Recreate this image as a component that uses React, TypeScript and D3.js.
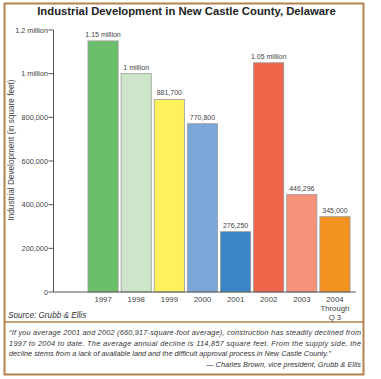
import React from "react";
import * as d3 from "d3";

const categories = ["1997", "1998", "1999", "2000", "2001", "2002", "2003", "2004"];
const values = [1150000, 1000000, 881700, 770800, 276250, 1050000, 446296, 345000];
const valueLabels = ["1.15 million", "1 million", "881,700", "770,800", "276,250", "1.05 million", "446,296", "345,000"];
const barColors = ["#6bbf6b", "#cde6c9", "#fdf15c", "#7ba6d8", "#3a85c7", "#f0654a", "#f4937a", "#f39121"];
const tickValues = [0, 200000, 400000, 600000, 800000, 1000000, 1200000];
const tickLabels = ["0", "200,000", "400,000", "600,000", "800,000", "1 million", "1.2 million"];
const quoteLines = [
  "\u201cIf you average 2001 and 2002 (660,917-square-foot average), construction has steadily declined from",
  "1997 to 2004 to date. The average annual decline is 114,857 square feet. From the supply side, the",
  "decline stems from a lack of available land and the difficult approval process in New Castle County.\u201d",
];
const attribution = "\u2014 Charles Brown, vice president, Grubb & Ellis";

export default function App() {
  const W = 381, H = 379;
  const font = "'Liberation Sans', Arial, Helvetica, sans-serif";
  const y = d3.scaleLinear().domain([0, 1200000]).range([292, 30]);
  const x = d3.scaleBand().domain(categories).range([86.5, 351.5]).paddingInner(0.09).paddingOuter(0.045);
  const axisX = 53.5;
  const border = "#b3834f";
  return (
    <svg width={W} height={H} style={{ position: "absolute", left: 0, top: 0, background: "#fff" }} fontFamily={font}>
      <rect x={0} y={0} width={W} height={H} fill="#fff" />
      <rect x={4.5} y={3.5} width={359} height={371} fill="none" stroke={border} strokeWidth={2} />
      <line x1={4.5} x2={363.5} y1={322} y2={322} stroke={border} strokeWidth={1.5} />
      <text x={186.5} y={15} textAnchor="middle" fontWeight="bold" fontSize={11.3} fill="#222">
        Industrial Development in New Castle County, Delaware
      </text>
      <text transform={`translate(14,150) rotate(-90)`} textAnchor="middle" fontSize={8.2} fill="#444">
        Industrial Development (in square feet)
      </text>
      {/* y axis */}
      <line x1={axisX} x2={axisX} y1={y(1200000)} y2={y(0)} stroke="#555" strokeWidth={1} />
      {tickValues.map((t, i) => (
        <g key={t}>
          <line x1={axisX - 5} x2={axisX} y1={y(t)} y2={y(t)} stroke="#555" strokeWidth={1} />
          <text x={axisX - 5.5} y={y(t) + 2.5} textAnchor="end" fontSize={7.3} fill="#444">
            {tickLabels[i]}
          </text>
        </g>
      ))}
      {/* bars */}
      {categories.map((c, i) => (
        <g key={c}>
          <rect x={x(c)!} y={y(values[i])} width={x.bandwidth()} height={y(0) - y(values[i])}
            fill={barColors[i]} stroke="#9a9a9a" strokeWidth={0.8} />
          <text x={x(c)! + x.bandwidth() / 2} y={y(values[i]) - 4} textAnchor="middle" fontSize={7} fill="#444">
            {valueLabels[i]}
          </text>
        </g>
      ))}
      <line x1={axisX} x2={356} y1={y(0)} y2={y(0)} stroke="#555" strokeWidth={1} />
      {categories.map((c) => (
        <text key={c} x={x(c)! + x.bandwidth() / 2} y={301.5} textAnchor="middle" fontSize={7.8} fill="#444">
          {c}
        </text>
      ))}
      <text x={x("2004")! + x.bandwidth() / 2} y={311} textAnchor="middle" fontSize={7.8} fill="#444">Through</text>
      <text x={x("2004")! + x.bandwidth() / 2} y={320} textAnchor="middle" fontSize={7.8} fill="#444">Q 3</text>
      <text x={8} y={318} fontStyle="italic" fontSize={8.2} fill="#333">Source: Grubb &amp; Ellis</text>
      {quoteLines.map((l, i) => (
        <text key={i} x={9} y={335 + i * 10.5} fontStyle="italic" fontSize={7.3} fill="#333"
          {...(i < 2 ? { textLength: 352, lengthAdjust: "spacing" } : {})}>
          {l}
        </text>
      ))}
      <text x={361} y={366.5} textAnchor="end" fontStyle="italic" fontSize={7.4} fill="#333">{attribution}</text>
    </svg>
  );
}
